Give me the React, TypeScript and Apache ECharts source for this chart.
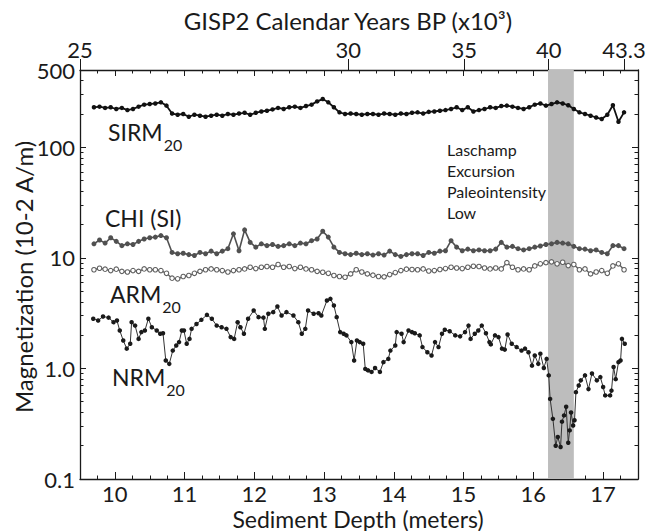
import React, { useEffect, useRef } from "react";
import * as echarts from "echarts";

// ---- data (depth in meters, magnetization in 10-2 A/m) ----
const depths = [
  9.70, 9.78, 9.86, 9.94, 10.02, 10.10, 10.18, 10.26, 10.34, 10.42,
  10.50, 10.58, 10.66, 10.74, 10.82, 10.90, 10.98, 11.06, 11.14, 11.22,
  11.30, 11.38, 11.46, 11.54, 11.62, 11.70, 11.78, 11.86, 11.94, 12.02,
  12.10, 12.18, 12.26, 12.34, 12.42, 12.50, 12.58, 12.66, 12.74, 12.82,
  12.90, 12.98, 13.06, 13.14, 13.22, 13.30, 13.38, 13.46, 13.54, 13.62,
  13.70, 13.78, 13.86, 13.94, 14.02, 14.10, 14.18, 14.26, 14.34, 14.42,
  14.50, 14.58, 14.66, 14.74, 14.82, 14.90, 14.98, 15.06, 15.14, 15.22,
  15.30, 15.38, 15.46, 15.54, 15.62, 15.70, 15.78, 15.86, 15.94, 16.02,
  16.10, 16.18, 16.26, 16.34, 16.42, 16.50, 16.58, 16.66, 16.74, 16.82,
  16.90, 16.98, 17.06, 17.14, 17.22, 17.30,
];

const sirm = [
  230, 233, 227, 230, 222, 227, 217, 222, 233, 243,
  246, 249, 255, 238, 202, 197, 200, 189, 197, 193,
  189, 193, 197, 193, 200, 197, 202, 205, 197, 205,
  211, 214, 220, 227, 222, 230, 233, 227, 236, 243,
  260, 273, 255, 230, 207, 200, 202, 200, 197, 200,
  200, 197, 202, 200, 197, 202, 200, 205, 207, 202,
  209, 211, 214, 217, 222, 230, 217, 230, 211, 217,
  222, 230, 227, 236, 238, 233, 227, 222, 230, 243,
  249, 238, 246, 255, 249, 240, 222, 207, 200, 193,
  186, 180, 197, 240, 170, 207,
];

const chi = [
  13.4, 14.5, 13.6, 15.2, 14.1, 12.9, 13.4, 13.2, 14.1, 14.8,
  15.2, 15.4, 15.9, 15.2, 11.2, 10.9, 11.0, 10.7, 10.5, 11.2,
  10.9, 11.5, 10.9, 11.5, 12.1, 16.5, 11.6, 17.9, 13.8, 12.5,
  13.4, 12.9, 13.2, 12.7, 12.9, 13.4, 12.9, 13.6, 13.4, 14.3,
  14.8, 17.4, 15.4, 12.5, 11.2, 10.9, 10.7, 11.0, 10.7, 10.9,
  10.6, 10.9, 10.6, 11.5, 10.7, 10.3, 10.7, 10.9, 10.9, 10.5,
  11.2, 11.0, 11.5, 11.6, 14.3, 12.5, 11.6, 12.0, 11.6, 11.8,
  11.6, 11.6, 12.0, 13.8, 12.5, 12.7, 12.1, 11.8, 12.1, 12.5,
  12.8, 13.2, 13.4, 13.8, 13.6, 13.4, 12.7, 12.1, 12.0, 11.6,
  11.8, 11.2, 10.9, 12.9, 12.9, 12.1,
];

const arm = [
  7.8, 8.05, 7.9, 7.67, 7.9, 7.55, 7.45, 7.67, 7.55, 7.94,
  7.8, 7.8, 7.67, 7.25, 6.55, 6.46, 6.78, 6.92, 7.25, 7.55,
  7.8, 7.94, 7.8, 7.67, 7.45, 7.67, 7.8, 7.94, 8.22, 8.0,
  8.22, 8.35, 8.22, 8.7, 8.22, 8.35, 8.0, 8.22, 7.94, 7.8,
  7.55, 7.41, 7.25, 6.92, 6.78, 6.68, 7.16, 7.8, 7.45, 7.16,
  6.97, 6.78, 6.73, 7.06, 7.36, 7.67, 7.9, 7.85, 7.8, 7.94,
  7.6, 7.67, 7.85, 8.0, 8.22, 8.1, 8.0, 8.22, 8.4, 8.35,
  8.1, 7.94, 8.1, 7.94, 9.05, 8.22, 7.8, 7.94, 7.8, 8.45,
  8.83, 9.05, 9.2, 8.83, 9.12, 8.51, 8.7, 7.8, 7.94, 7.16,
  7.45, 7.67, 7.25, 8.45, 8.83, 7.8,
];

const nrmDepths = [
  9.69, 9.76, 9.83, 9.91, 9.98, 10.03, 10.07, 10.12, 10.17, 10.22,
  10.24, 10.29, 10.34, 10.38, 10.43, 10.48, 10.53, 10.60, 10.65, 10.69,
  10.73, 10.78, 10.83, 10.88, 10.92, 10.96, 10.99, 11.03, 11.07, 11.10,
  11.17, 11.24, 11.32, 11.39, 11.46, 11.53, 11.60, 11.66, 11.71, 11.76,
  11.80, 11.85, 11.91, 11.99, 12.06, 12.13, 12.15, 12.20, 12.27, 12.33,
  12.39, 12.46, 12.56, 12.63, 12.68, 12.73, 12.77, 12.85, 12.92, 12.96,
  13.04, 13.09, 13.14, 13.18, 13.23, 13.28, 13.32, 13.39, 13.43, 13.47,
  13.51, 13.56, 13.59, 13.63, 13.68, 13.73, 13.80, 13.85, 13.92, 13.95,
  14.02, 14.04, 14.11, 14.14, 14.21, 14.26, 14.30, 14.37, 14.41, 14.48,
  14.54, 14.59, 14.64, 14.69, 14.73, 14.80, 14.88, 14.95, 15.02, 15.07,
  15.10, 15.16, 15.21, 15.26, 15.32, 15.37, 15.39, 15.45, 15.50, 15.55,
  15.59, 15.63, 15.69, 15.76, 15.83, 15.88, 15.93, 15.98, 16.02, 16.07,
  16.10, 16.15, 16.19, 16.22, 16.24, 16.28, 16.32, 16.35, 16.39, 16.41,
  16.44, 16.47, 16.50, 16.52, 16.54, 16.57, 16.59, 16.61, 16.65, 16.68,
  16.74, 16.79, 16.84, 16.91, 16.96, 17.00, 17.03, 17.10, 17.12, 17.15,
  17.18, 17.22, 17.25, 17.27, 17.31,
];

const nrm = [
  2.81, 2.71, 2.95, 2.88, 2.62, 2.71, 2.20, 1.79, 1.51, 1.67,
  2.62, 2.44, 1.85, 2.13, 2.20, 2.81, 2.36, 2.20, 2.06, 2.08,
  1.18, 1.10, 1.45, 1.61, 1.73, 2.20, 2.20, 1.67, 1.85, 2.28,
  2.52, 2.75, 3.05, 2.81, 2.44, 2.36, 2.28, 1.92, 1.85, 2.62,
  2.36, 2.06, 2.81, 3.34, 2.91, 2.88, 2.28, 3.12, 3.23, 3.63,
  3.01, 3.23, 3.01, 2.62, 2.06, 2.28, 3.34, 3.12, 3.16, 3.01,
  4.11, 4.26, 3.71, 2.91, 2.13, 2.06, 1.99, 1.73, 1.18, 1.79,
  1.73, 1.67, 0.99, 0.96, 0.93, 1.01, 0.93, 1.14, 1.22, 1.45,
  1.61, 2.13, 2.06, 1.73, 2.20, 2.13, 2.08, 1.99, 1.56, 1.40,
  1.31, 1.73, 1.56, 2.06, 2.24, 2.17, 1.99, 1.95, 2.13, 2.44,
  1.85, 2.06, 2.20, 2.44, 2.08, 1.73, 1.65, 1.99, 1.92, 1.51,
  1.48, 2.03, 1.67, 1.56, 1.45, 1.51, 1.40, 1.06, 1.31, 1.10,
  1.36, 1.01, 1.22, 0.865, 0.53, 0.35, 0.20, 0.24, 0.195, 0.33,
  0.376, 0.45, 0.213, 0.275, 0.40, 0.305, 0.34, 0.61, 0.70, 0.78,
  0.865, 0.65, 0.90, 0.78, 0.835, 0.68, 0.57, 0.57, 0.63, 1.03,
  0.80, 1.14, 1.18, 1.85, 1.67,
];

// Laschamp excursion band (depth, m)
const bandStart = 16.21;
const bandEnd = 16.58;

// ---- axes ticks / labels ----
const depthTicks = [10, 11, 12, 13, 14, 15, 16, 17];
const depthTickLabels = ["10", "11", "12", "13", "14", "15", "16", "17"];
const ageTickDepths = [9.5, 13.345, 15.01, 16.22, 17.3];
const ageTickLabels = ["25", "30", "35", "40", "43.3"];
const magMajorTicks = [0.1, 1, 10, 100];
const magLabelValues = [0.1, 1, 10, 100, 500];
const magLabels = ["0.1", "1.0", "10", "100", "500"];
const magMinorTicks = [
  0.2, 0.3, 0.4, 0.5, 0.6, 0.7, 0.8, 0.9,
  2, 3, 4, 5, 6, 7, 8, 9,
  20, 30, 40, 50, 60, 70, 80, 90,
  200, 300, 400,
];

const FONT = "Lato, 'Noto Sans', sans-serif";
const INK = "#1a1a1a";
const X_MIN = 9.5;
const X_MAX = 17.5;
const Y_MIN = 0.1;
const Y_MAX = 500;
const LY_MIN = Math.log10(Y_MIN);
const LY_MAX = Math.log10(Y_MAX);

const nearestLabel = (vals: number[], labels: string[]) => (v: number) => {
  let bi = 0;
  let bd = Infinity;
  vals.forEach((t, i) => {
    const d = Math.abs(t - v);
    if (d < bd) {
      bd = d;
      bi = i;
    }
  });
  return labels[bi];
};

const pairs = (xs: number[], ys: number[]) => xs.map((x, i) => [x, ys[i]]);

const lineStyleAxis = { color: INK, width: 1.3 };
const tickStyle = { color: INK, width: 1 };

function buildOption(): any {
  const xAxes = [
    {
      type: "value", position: "bottom", min: X_MIN, max: X_MAX, interval: 0.25,
      splitLine: { show: false },
      axisLine: { show: true, onZero: false, lineStyle: lineStyleAxis },
      axisTick: { show: true, inside: true, length: 3.5, lineStyle: tickStyle },
      axisLabel: { show: false },
    },
    {
      type: "value", position: "bottom", min: X_MIN, max: X_MAX,
      splitLine: { show: false },
      axisLine: { show: false, onZero: false },
      axisTick: { show: true, inside: true, length: 7, customValues: depthTicks, lineStyle: tickStyle },
      axisLabel: {
        show: true, customValues: depthTicks, margin: 3,
        formatter: nearestLabel(depthTicks, depthTickLabels),
        fontSize: 22, fontFamily: FONT, color: INK,
      },
    },
    {
      type: "value", position: "top", min: X_MIN, max: X_MAX, interval: 0.25,
      splitLine: { show: false },
      axisLine: { show: true, onZero: false, lineStyle: lineStyleAxis },
      axisTick: { show: true, inside: true, length: 3.5, lineStyle: tickStyle },
      axisLabel: { show: false },
    },
    {
      type: "value", position: "top", min: X_MIN, max: X_MAX,
      splitLine: { show: false },
      axisLine: { show: false, onZero: false },
      axisTick: { show: true, inside: true, length: 6, customValues: depthTicks, lineStyle: tickStyle },
      axisLabel: { show: false },
    },
    {
      type: "value", position: "top", min: X_MIN, max: X_MAX,
      splitLine: { show: false },
      axisLine: { show: false, onZero: false },
      axisTick: { show: true, inside: false, length: 11, customValues: ageTickDepths, lineStyle: tickStyle },
      axisLabel: {
        show: true, customValues: ageTickDepths, margin: 10,
        formatter: nearestLabel(ageTickDepths, ageTickLabels),
        fontSize: 22, fontFamily: FONT, color: INK,
      },
    },
  ];

  const logMajor = magMajorTicks.map((v) => Math.log10(v));
  const logMinor = magMinorTicks.map((v) => Math.log10(v));
  const logLabels = magLabelValues.map((v) => Math.log10(v));

  const yAxes = [
    { type: "log", logBase: 10, min: Y_MIN, max: Y_MAX, show: false, splitLine: { show: false } },
    {
      type: "value", position: "left", min: LY_MIN, max: LY_MAX,
      splitLine: { show: false },
      axisLine: { show: true, onZero: false, lineStyle: lineStyleAxis },
      axisTick: { show: true, inside: true, length: 6, customValues: logMajor, lineStyle: tickStyle },
      axisLabel: {
        show: true, customValues: logLabels, margin: 5,
        formatter: nearestLabel(logLabels, magLabels),
        fontSize: 22, fontFamily: FONT, color: INK,
      },
    },
    {
      type: "value", position: "left", min: LY_MIN, max: LY_MAX,
      splitLine: { show: false },
      axisLine: { show: false, onZero: false },
      axisTick: { show: true, inside: true, length: 3.5, customValues: logMinor, lineStyle: tickStyle },
      axisLabel: { show: false },
    },
    {
      type: "value", position: "right", min: LY_MIN, max: LY_MAX,
      splitLine: { show: false },
      axisLine: { show: true, onZero: false, lineStyle: lineStyleAxis },
      axisTick: { show: true, inside: true, length: 6, customValues: logMajor, lineStyle: tickStyle },
      axisLabel: { show: false },
    },
    {
      type: "value", position: "right", min: LY_MIN, max: LY_MAX,
      splitLine: { show: false },
      axisLine: { show: false, onZero: false },
      axisTick: { show: true, inside: true, length: 3.5, customValues: logMinor, lineStyle: tickStyle },
      axisLabel: { show: false },
    },
  ];

  const series = [
    {
      type: "line", name: "band", xAxisIndex: 0, yAxisIndex: 0, z: 1,
      data: [[bandStart, 1]], symbol: "none", silent: true,
      lineStyle: { opacity: 0 },
      markArea: {
        silent: true,
        itemStyle: { color: "#bdbdbd" },
        data: [[{ xAxis: bandStart }, { xAxis: bandEnd }]],
      },
    },
    {
      type: "line", name: "SIRM20", xAxisIndex: 0, yAxisIndex: 0, z: 3,
      data: pairs(depths, sirm), symbol: "circle", symbolSize: 4.5,
      itemStyle: { color: "#111111" }, lineStyle: { color: "#111111", width: 1.8 },
    },
    {
      type: "line", name: "CHI (SI)", xAxisIndex: 0, yAxisIndex: 0, z: 3,
      data: pairs(depths, chi), symbol: "circle", symbolSize: 5,
      itemStyle: { color: "#505050" }, lineStyle: { color: "#505050", width: 1.6 },
    },
    {
      type: "line", name: "ARM20", xAxisIndex: 0, yAxisIndex: 0, z: 3,
      data: pairs(depths, arm), symbol: "circle", symbolSize: 4.5,
      itemStyle: { color: "#ffffff", borderColor: "#606060", borderWidth: 1.1 },
      lineStyle: { color: "#606060", width: 1.4 },
    },
    {
      type: "line", name: "NRM20", xAxisIndex: 0, yAxisIndex: 0, z: 3,
      data: pairs(nrmDepths, nrm), symbol: "circle", symbolSize: 4.5,
      itemStyle: { color: "#1a1a1a" }, lineStyle: { color: "#333333", width: 1 },
    },
  ];

  const subRich = (main: number, sub: number) => ({
    m: { fontSize: main, fontFamily: FONT, fill: INK },
    s: { fontSize: sub, fontFamily: FONT, fill: INK, padding: [24, 0, 0, 1] },
  });

  const graphic = [
    {
      type: "text", x: 348, y: 20,
      style: {
        text: "GISP2 Calendar Years BP (x10\u00B3)", fontSize: 24, fontFamily: FONT, fill: INK,
        align: "center", verticalAlign: "middle",
      },
    },
    {
      type: "text", x: 358, y: 518.5,
      style: {
        text: "Sediment Depth (meters)", fontSize: 23, fontFamily: FONT, fill: INK,
        align: "center", verticalAlign: "middle",
      },
    },
    {
      type: "text", x: 23, y: 277, rotation: Math.PI / 2,
      style: {
        text: "Magnetization (10-2 A/m)", fontSize: 24, fontFamily: FONT, fill: INK,
        align: "center", verticalAlign: "middle",
      },
    },
    {
      type: "text", x: 108, y: 132,
      style: { text: "{m|SIRM}{s|20}", rich: subRich(23, 16), align: "left", verticalAlign: "middle" },
    },
    {
      type: "text", x: 105, y: 218,
      style: { text: "CHI (SI)", fontSize: 23, fontFamily: FONT, fill: INK, align: "left", verticalAlign: "middle" },
    },
    {
      type: "text", x: 110, y: 294,
      style: { text: "{m|ARM}{s|20}", rich: subRich(23, 16), align: "left", verticalAlign: "middle" },
    },
    {
      type: "text", x: 112, y: 377,
      style: { text: "{m|NRM}{s|20}", rich: subRich(23, 16), align: "left", verticalAlign: "middle" },
    },
    {
      type: "text", x: 447, y: 138.5,
      style: {
        text: "Laschamp\nExcursion\nPaleointensity\nLow", fontSize: 16, fontFamily: FONT, fill: INK,
        lineHeight: 21, align: "left", verticalAlign: "top",
      },
    },
  ];

  return {
    animation: false,
    backgroundColor: "#ffffff",
    grid: { left: 80, right: 14, top: 70, bottom: 52, containLabel: false, outerBoundsMode: "none" },
    xAxis: xAxes,
    yAxis: yAxes,
    series,
    graphic,
  };
}

export default function App() {
  const ref = useRef<HTMLDivElement>(null);
  useEffect(() => {
    document.body.style.margin = "0";
    if (!ref.current) return;
    const chart = echarts.init(ref.current, null, { renderer: "svg" });
    chart.setOption(buildOption());
    return () => {
      chart.dispose();
    };
  }, []);
  return <div ref={ref} style={{ width: 652, height: 531 }} />;
}
